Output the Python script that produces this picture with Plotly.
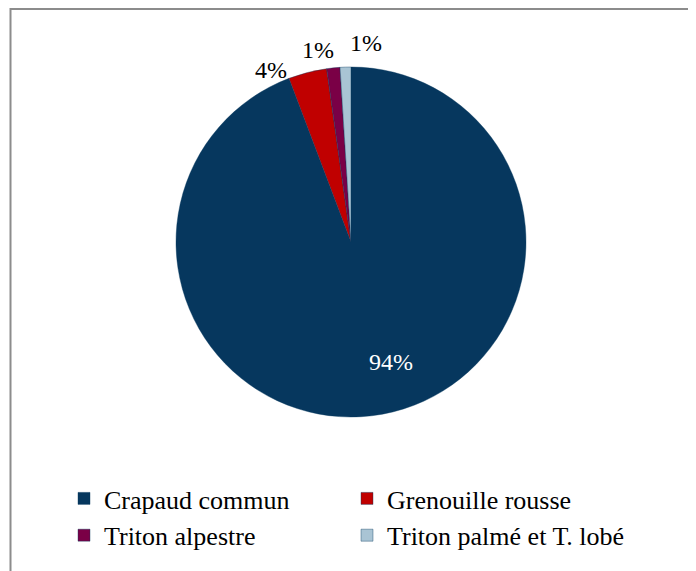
import math
import plotly.graph_objects as go

categories = ["Crapaud commun", "Grenouille rousse", "Triton alpestre", "Triton palmé et T. lobé"]
counts = [850, 32, 11, 9]
colors = ["#06375E", "#C00000", "#7A0046", "#A9C4D4"]

W, H = 688, 563
FONT = "Liberation Serif, Times New Roman, serif"

# pie geometry (pixels in the figure)
CX, CY, R = 343, 234, 175

# label placement style: (radius factor, x shift px, y shift px down)
label_style = [(0.72, 17, -4), (1.0, -37, -2), (1.0, -15, -18), (1.0, 20, -24)]
label_color = ["#FFFFFF", "#000000", "#000000", "#000000"]

fig = go.Figure(go.Pie(
    labels=categories,
    values=counts,
    sort=False,
    direction="clockwise",
    rotation=0,
    marker=dict(colors=colors, line=dict(color="#06375E", width=0.4)),
    textinfo="none",
    hoverinfo="label+percent",
    domain=dict(x=[(CX - R) / W, (CX + R) / W], y=[1 - (CY + R) / H, 1 - (CY - R) / H]),
    automargin=False,
))

total = sum(counts)
annotations = []
cum = 0.0
for v, (rf, sx, sy), col in zip(counts, label_style, label_color):
    mid = (cum + v / 2) / total * 2 * math.pi
    cum += v
    px = CX + rf * R * math.sin(mid)
    py = CY - rf * R * math.cos(mid)
    annotations.append(dict(
        x=px / W, y=1 - py / H, xref="paper", yref="paper",
        text=f"{round(v / total * 100)}%", showarrow=False,
        xanchor="center", yanchor="middle", xshift=sx, yshift=-sy,
        font=dict(family=FONT, size=24, color=col),
    ))

fig.update_layout(
    width=W, height=H,
    margin=dict(l=0, r=0, t=0, b=0),
    paper_bgcolor="#FFFFFF",
    plot_bgcolor="#FFFFFF",
    font=dict(family=FONT, size=24, color="#000000"),
    showlegend=True,
    legend=dict(
        orientation="h",
        x=56 / W, xanchor="left",
        y=1 - 467 / H, yanchor="top",
        entrywidth=238, entrywidthmode="pixels",
        font=dict(family=FONT, size=26, color="#000000"),
        bgcolor="rgba(0,0,0,0)",
        traceorder="normal",
    ),
    annotations=annotations,
    shapes=[dict(
        type="rect", xref="paper", yref="paper",
        x0=2.5 / W, x1=682.5 / W, y0=-0.05, y1=1 - 1 / H,
        line=dict(color="#8C8C8C", width=2), fillcolor="rgba(0,0,0,0)", layer="below",
    )],
)

fig.write_html("out.html")
